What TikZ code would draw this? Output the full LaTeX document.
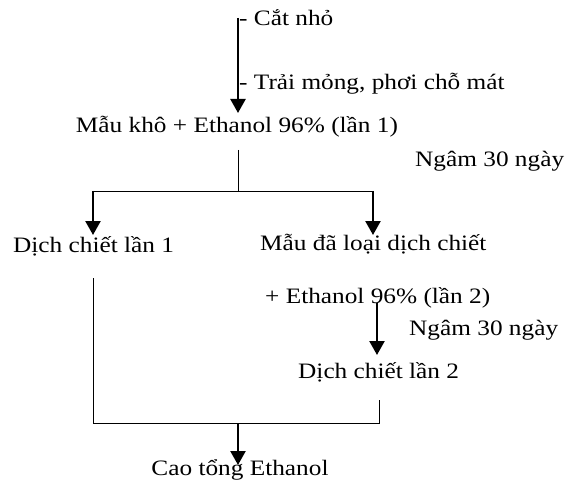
\documentclass[tikz,border=0pt]{standalone}
\usepackage{fontspec}
\setmainfont[FakeStretch=1.15]{Liberation Serif}
\usetikzlibrary{arrows.meta}
\begin{document}
\begin{tikzpicture}[x=1pt,y=-1pt,
  lbl/.style={inner sep=0pt,font=\fontsize{22}{26}\selectfont,anchor=base west},
  arr/.style={line width=2.4pt,-{Triangle[width=15pt,length=14pt]}},
  ln/.style={line width=0.9pt}]
\useasboundingbox (0,0) rectangle (574,487);
% top
\coordinate (t0) at (238,18);
\coordinate (t1) at (238,113);
\draw[arr] (t0) -- (t1);
\node[lbl] (c1) at (239,26) {- Cắt nhỏ};
\node[lbl] (c2) at (239,90) {- Trải mỏng, phơi chỗ mát};
\node[lbl,anchor=base] (m1) at (237,133) {Mẫu khô + Ethanol 96\% (lần 1)};
\node[lbl] (n1) at (415,167) {Ngâm 30 ngày};
% split
\coordinate (s0) at (238,150);
\coordinate (s1) at (238,191);
\coordinate (sl) at (93,191);
\coordinate (sr) at (373,191);
\coordinate (al) at (93,235);
\coordinate (ar) at (373,235);
\draw[ln] (s0) -- (s1);
\draw[ln] (sl) -- (sr);
\draw[arr] (sl) -- (al);
\draw[arr] (sr) -- (ar);
\node[lbl] (d1) at (13,252) {Dịch chiết lần 1};
\node[lbl] (m2) at (260,251) {Mẫu đã loại dịch chiết};
\node[lbl] (e2) at (265,303) {+ Ethanol 96\% (lần 2)};
\coordinate (b0) at (377,303);
\coordinate (b1) at (377,355);
\draw[arr] (b0) -- (b1);
\node[lbl] (n2) at (409,335) {Ngâm 30 ngày};
\node[lbl] (d2) at (298,378) {Dịch chiết lần 2};
% merge
\coordinate (l0) at (93,278);
\coordinate (l1) at (93,423);
\coordinate (r0) at (379,400);
\coordinate (r1) at (379,423);
\draw[ln] (l0) -- (l1) -- (r1) -- (r0);
\coordinate (f0) at (238,423);
\coordinate (f1) at (238,465);
\draw[arr] (f0) -- (f1);
\node[lbl,anchor=base] (ct) at (240,475) {Cao tổng Ethanol};
\end{tikzpicture}
\end{document}
